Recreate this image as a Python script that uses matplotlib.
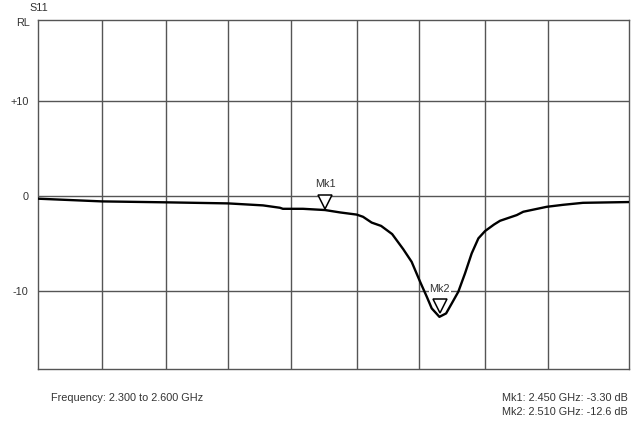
"""S11 return-loss sweep, 2.300 to 2.600 GHz, with two markers."""

import matplotlib

matplotlib.use("Agg")
import matplotlib.pyplot as plt

plt.rcParams["font.family"] = ["Liberation Sans", "DejaVu Sans"]

# trace (GHz, dB)
freq_ghz = [2.3004, 2.3323, 2.3652, 2.3963, 2.4141, 2.4227, 2.4242, 2.4344,
            2.4456, 2.4532, 2.4617, 2.4649, 2.4693, 2.4741, 2.4797, 2.4853,
            2.4896, 2.4939, 2.4973, 2.4998, 2.5037, 2.5071, 2.5100, 2.5133,
            2.5167, 2.5201, 2.5235, 2.5269, 2.5314, 2.5345, 2.5430, 2.5463,
            2.5582, 2.5665, 2.5766, 2.5996]
s11_db = [-0.28, -0.56, -0.66, -0.77, -0.98, -1.23, -1.34, -1.34,
          -1.47, -1.72, -1.95, -2.18, -2.79, -3.14, -4.00, -5.58,
          -6.92, -9.02, -10.6, -11.82, -12.71, -12.35, -11.29, -10.07,
          -8.14, -6.03, -4.45, -3.68, -3.00, -2.60, -2.00, -1.65,
          -1.13, -0.92, -0.71, -0.63]

# vertical division lines of the original display
vgrid_ghz = [2.3325, 2.365, 2.3963, 2.4282, 2.4617, 2.4935, 2.5267, 2.5587]
y_ticks = [10, 0, -10]
y_ticklabels = ["+10", "0", "-10"]

# marker symbols and their readouts
mk_names = ["Mk1", "Mk2"]
mk_freq = [2.4457, 2.5039]
mk_level = [-0.6, -11.6]
mk_readout = ["Mk1: 2.450 GHz: -3.30 dB", "Mk2: 2.510 GHz: -12.6 dB"]

GRID = "#555555"
TXT = "#333333"
FS = 7.8

fig = plt.figure(figsize=(6.41, 4.21), dpi=100)
ax = fig.add_axes([0.0598, 0.1235, 0.9215, 0.8283])
ax.set_xlim(2.3, 2.6)
ax.set_ylim(-18.2, 18.5)

for f in vgrid_ghz:
    ax.axvline(f, color=GRID, lw=1.0, zorder=1)
for v in y_ticks:
    ax.axhline(v, color=GRID, lw=1.0, zorder=1)
for side in ax.spines.values():
    side.set_color(GRID)
    side.set_linewidth(1.0)

ax.plot(freq_ghz, s11_db, color="black", lw=1.7, zorder=3,
        solid_joinstyle="round")

ax.plot(mk_freq, mk_level, ls="none", marker="v", ms=10.5,
        mfc="white", mec="black", mew=1.1, zorder=4)
for name, f, lvl in zip(mk_names, mk_freq, mk_level):
    ax.annotate(name, (f, lvl), xytext=(0, 9), textcoords="offset points",
                ha="center", va="bottom", fontsize=FS, color=TXT, zorder=5,
                bbox=dict(facecolor="white", edgecolor="none", pad=0.6))

ax.set_yticks(y_ticks, y_ticklabels)
ax.set_xticks([])
ax.tick_params(axis="y", length=0, pad=7, labelsize=FS, labelcolor=TXT)

fig.text(0.0455, 0.981, "S11", fontsize=FS, color=TXT, va="center")
fig.text(0.0255, 0.945, "RL", fontsize=FS, color=TXT, va="center")
fig.text(0.079, 0.054, "Frequency: 2.300 to 2.600 GHz", fontsize=FS,
         color=TXT, va="center")
fig.text(0.980, 0.054, mk_readout[0], fontsize=FS, color=TXT,
         ha="right", va="center")
fig.text(0.980, 0.022, mk_readout[1], fontsize=FS, color=TXT,
         ha="right", va="center")

fig.savefig("out.png", dpi=100, facecolor="white")
